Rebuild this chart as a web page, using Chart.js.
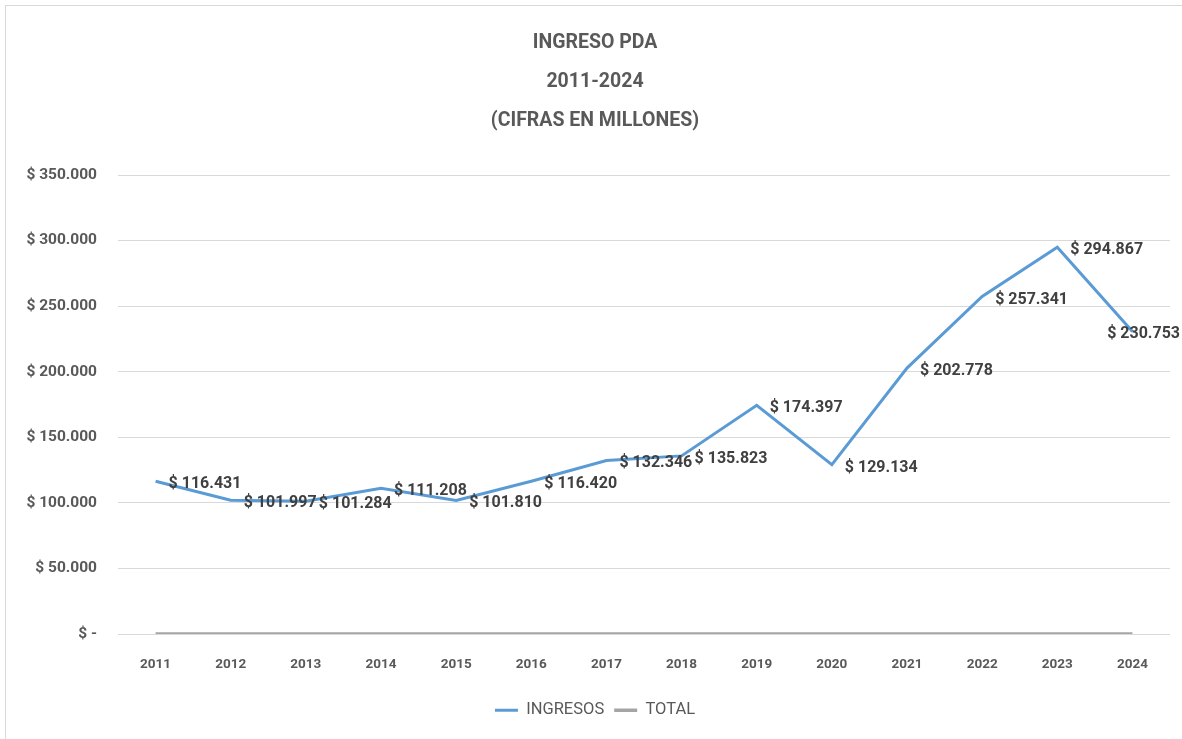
<!DOCTYPE html>
<html>
<head>
<meta charset="utf-8">
<script src="https://cdn.jsdelivr.net/npm/chart.js@4/dist/chart.umd.min.js"></script>
<style>
  html, body { margin: 0; padding: 0; background: #ffffff; }
  #wrap { position: relative; width: 1182px; height: 739px; overflow: hidden; }
  #frame { position: absolute; left: 5px; top: 5px; width: 1300px; height: 900px; border: 1px solid #d9d9d9; box-sizing: border-box; }
  canvas { position: absolute; left: 0; top: 0; }
</style>
</head>
<body>
<div id="wrap">
  <div id="frame"></div>
  <canvas id="c" width="1182" height="739"></canvas>
</div>
<script>
const years = ["2011","2012","2013","2014","2015","2016","2017","2018","2019","2020","2021","2022","2023","2024"];
const ingresos = [116431, 101997, 101284, 111208, 101810, 116420, 132346, 135823, 174397, 129134, 202778, 257341, 294867, 230753];
const total = [0,0,0,0,0,0,0,0,0,0,0,0,0,0];
const titleLines = ["INGRESO PDA", "2011-2024", "(CIFRAS EN MILLONES)"];
const seriesNames = ["INGRESOS", "TOTAL"];

const FONT = "Roboto, 'Liberation Sans', sans-serif";
const GREY = "#595959";

function fmtMoney(v) {
  if (v === 0) return "$ -";
  const s = Math.round(v).toString().replace(/\B(?=(\d{3})+(?!\d))/g, ".");
  return "$ " + s;
}

const labelPlugin = {
  id: "dataLabels",
  afterDatasetsDraw(chart) {
    const ctx = chart.ctx;
    const meta = chart.getDatasetMeta(0);
    ctx.save();
    ctx.font = "bold 16px " + FONT;
    ctx.fillStyle = "#404040";
    ctx.textBaseline = "middle";
    ctx.textAlign = "left";
    meta.data.forEach((pt, i) => {
      const txt = fmtMoney(ingresos[i]);
      const w = ctx.measureText(txt).width;
      let x = pt.x + 13;
      if (x + w > chart.width - 2) x = chart.width - 2 - w;
      ctx.fillText(txt, x, pt.y + 3);
    });
    ctx.restore();
  }
};

new Chart(document.getElementById("c"), {
  type: "line",
  data: {
    labels: years,
    datasets: [
      { label: seriesNames[0], data: ingresos, borderColor: "#5B9BD5", backgroundColor: "#5B9BD5", borderWidth: 3, pointRadius: 0, tension: 0, order: 0 },
      { label: seriesNames[1], data: total, borderColor: "#A5A5A5", backgroundColor: "#A5A5A5", borderWidth: 3.5, pointRadius: 0, tension: 0, order: 1 }
    ]
  },
  options: {
    responsive: false,
    animation: false,
    layout: { padding: { left: 20, right: 12, top: 0, bottom: 10.5 } },
    plugins: {
      title: {
        display: true,
        text: titleLines,
        color: GREY,
        font: { family: FONT, size: 19.5, weight: "bold", lineHeight: 2.0 },
        padding: { top: 24, bottom: 34 }
      },
      legend: {
        position: "bottom",
        labels: {
          color: GREY,
          font: { family: FONT, size: 16.5 },
          usePointStyle: true,
          pointStyle: "line",
          pointStyleWidth: 23,
          boxWidth: 23,
          boxHeight: 16,
          padding: 10
        }
      },
      tooltip: { enabled: false }
    },
    scales: {
      x: {
        offset: true,
        grid: { display: false, drawTicks: false },
        border: { display: false },
        ticks: { color: GREY, font: { family: FONT, size: 13.5, weight: "bold" }, padding: 23, maxRotation: 0 },
        afterFit(s) { s.height = 58; }
      },
      y: {
        min: 0, max: 350000,
        grid: { color: "#d9d9d9", lineWidth: 1, drawTicks: false },
        border: { display: false },
        ticks: { stepSize: 50000, color: GREY, font: { family: FONT, size: 15.5, weight: "bold" }, padding: 21, callback: v => fmtMoney(v) },
        afterFit(s) { s.width = 98; }
      }
    }
  },
  plugins: [labelPlugin]
});
</script>
</body>
</html>
